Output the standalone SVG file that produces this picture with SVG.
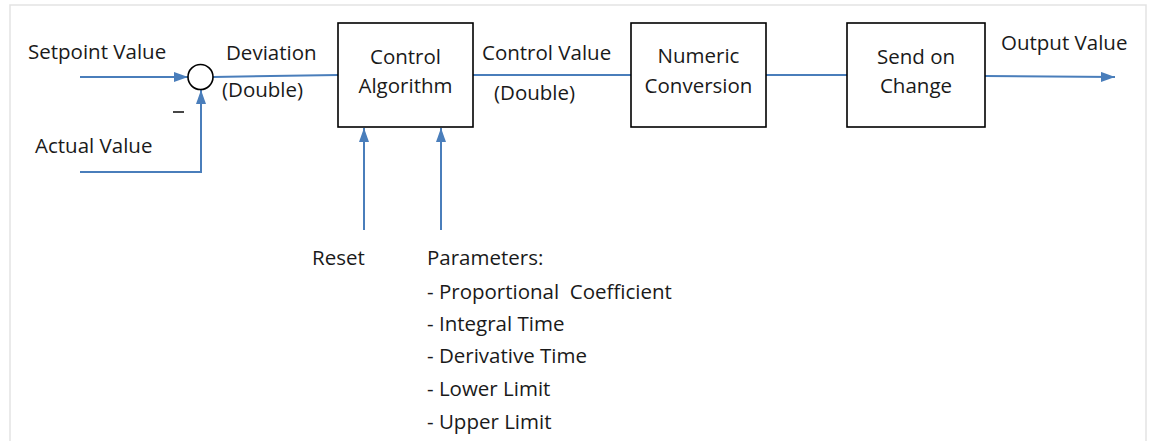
<svg xmlns="http://www.w3.org/2000/svg" width="1152" height="441" viewBox="0 0 1152 441">
<defs>
<style>
text{font-family:"Open Sans","Noto Sans","Liberation Sans",sans-serif;font-size:20.5px;fill:#1a1a1a;white-space:pre}
.c{text-anchor:middle}
.box{fill:#fff;stroke:#000;stroke-width:1.6}
.ln{fill:none;stroke:#4a7ebb;stroke-width:2}
</style>
<marker id="ah" viewBox="0 0 14 10" refX="14" refY="5" markerWidth="14" markerHeight="10" markerUnits="userSpaceOnUse" orient="auto">
<path d="M0,0 L14,5 L0,10 Z" fill="#4a7ebb"/>
</marker>
</defs>
<rect x="0" y="0" width="1152" height="441" fill="#fff"/>
<rect x="10" y="5" width="1136" height="450" fill="none" stroke="#e3e3e3" stroke-width="1.5"/>
<g id="connectors">
<line class="ln" x1="80" y1="77" x2="188" y2="77" marker-end="url(#ah)"/>
<polyline class="ln" points="80,172 201,172 201,90" marker-end="url(#ah)"/>
<line class="ln" x1="213" y1="77" x2="338" y2="75"/>
<line class="ln" x1="473" y1="75" x2="631" y2="75"/>
<line class="ln" x1="766" y1="75" x2="847" y2="75"/>
<line class="ln" x1="985" y1="76" x2="1115" y2="77" marker-end="url(#ah)"/>
<line class="ln" x1="364" y1="230" x2="364" y2="128" marker-end="url(#ah)"/>
<line class="ln" x1="441" y1="230" x2="441" y2="128" marker-end="url(#ah)"/>
</g>
<g id="sum">
<circle cx="200.5" cy="77" r="12.5" fill="#fff" stroke="#000" stroke-width="1.6"/>
<line x1="173" y1="112" x2="184" y2="112" stroke="#1a1a1a" stroke-width="1.6"/>
</g>
<g id="setpoint"><text x="28" y="59">Setpoint Value</text></g>
<g id="actual"><text x="35" y="153">Actual Value</text></g>
<g id="deviation"><text x="226" y="60">Deviation</text><text x="222" y="97">(Double)</text></g>
<g id="control-algorithm">
<rect class="box" x="338" y="23" width="135" height="104"/>
<text x="405.5" y="64" class="c">Control</text>
<text x="405.5" y="93" class="c">Algorithm</text>
</g>
<g id="control-value"><text x="482" y="60">Control Value</text><text x="494" y="100">(Double)</text></g>
<g id="numeric-conversion">
<rect class="box" x="631" y="23" width="135" height="104"/>
<text x="698.5" y="63" class="c">Numeric</text>
<text x="698.5" y="93" class="c">Conversion</text>
</g>
<g id="send-on-change">
<rect class="box" x="847" y="23" width="138" height="104"/>
<text x="916" y="64" class="c">Send on</text>
<text x="916" y="93" class="c">Change</text>
</g>
<g id="output"><text x="1001" y="50">Output Value</text></g>
<g id="reset"><text x="312" y="265">Reset</text></g>
<g id="parameters">
<text x="427" y="265">Parameters:</text>
<text x="427" y="299">- Proportional  Coefficient</text>
<text x="427" y="331">- Integral Time</text>
<text x="427" y="363">- Derivative Time</text>
<text x="427" y="396">- Lower Limit</text>
<text x="427" y="429">- Upper Limit</text>
</g>
</svg>
